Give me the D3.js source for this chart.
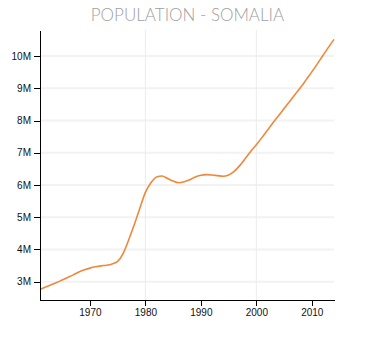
<!DOCTYPE html>
<html>
<head>
<meta charset="utf-8">
<script src="https://cdn.jsdelivr.net/npm/d3@7"></script>
<style>
  html, body { margin: 0; padding: 0; background: #fff; }
  svg { display: block; }
  .axis text { font-family: "Liberation Sans", Arial, sans-serif; font-size: 10px; fill: #111; }
  .axis path, .axis line { stroke: #000; shape-rendering: crispEdges; }
</style>
</head>
<body>
<script>
const title = "POPULATION - SOMALIA";
const years = d3.range(1961, 2015);
const population = [
  2.76, 2.83, 2.90, 2.97, 3.05, 3.13, 3.21, 3.30, 3.37, 3.42,
  3.46, 3.49, 3.51, 3.55, 3.63, 3.88, 4.30, 4.77, 5.28, 5.77,
  6.07, 6.25, 6.28, 6.20, 6.12, 6.07, 6.10, 6.16, 6.25, 6.30,
  6.32, 6.31, 6.29, 6.27, 6.31, 6.42, 6.60, 6.82, 7.05, 7.25,
  7.47, 7.70, 7.93, 8.15, 8.37, 8.59, 8.81, 9.03, 9.27, 9.51,
  9.76, 10.02, 10.27, 10.52
].map(v => v * 1e6);
const yDomain = [2.43e6, 10.81e6];
const xDomain = [1961, 2014];
const yTicks = [3e6, 4e6, 5e6, 6e6, 7e6, 8e6, 9e6, 10e6];
const xTicks = [1970, 1980, 1990, 2000, 2010];
const xGrid = [1980, 2000];

const W = 375, H = 350;
const margin = { top: 30, right: 41, bottom: 50, left: 40 };

const svg = d3.select("body").append("svg").attr("width", W).attr("height", H);

const x = d3.scaleLinear().domain(xDomain).range([margin.left, W - margin.right]);
const y = d3.scaleLinear().domain(yDomain).range([H - margin.bottom, margin.top]);

svg.append("text")
  .attr("x", W / 2).attr("y", 21)
  .attr("text-anchor", "middle")
  .style("font-family", "Lato, 'Open Sans', sans-serif")
  .style("font-weight", 300)
  .style("font-size", "17px")
  .style("fill", "#a0a0a0")
  .text(title);

// grid
svg.append("g").selectAll("line").data(yTicks).join("line")
  .attr("x1", margin.left).attr("x2", W - margin.right)
  .attr("y1", d => y(d)).attr("y2", d => y(d))
  .attr("stroke", "#f2f2f2").attr("stroke-width", 2);
svg.append("g").selectAll("line").data(xGrid).join("line")
  .attr("x1", d => x(d)).attr("x2", d => x(d))
  .attr("y1", margin.top).attr("y2", H - margin.bottom)
  .attr("stroke", "#ececec").attr("stroke-width", 1);

// line
const data = years.map((yr, i) => ({ yr, v: population[i] }));
svg.append("path").datum(data)
  .attr("fill", "none")
  .attr("stroke", "#f0883a")
  .attr("stroke-width", 1.6)
  .attr("d", d3.line().x(d => x(d.yr)).y(d => y(d.v)).curve(d3.curveMonotoneX));

// axes
svg.append("g").attr("class", "axis")
  .attr("transform", `translate(0,${H - margin.bottom})`)
  .call(d3.axisBottom(x).tickValues(xTicks).tickFormat(d3.format("d")).tickSizeOuter(0));
svg.append("g").attr("class", "axis")
  .attr("transform", `translate(${margin.left},0)`)
  .call(d3.axisLeft(y).tickValues(yTicks).tickFormat(d => (d / 1e6) + "M").tickSizeOuter(0));
</script>
</body>
</html>
